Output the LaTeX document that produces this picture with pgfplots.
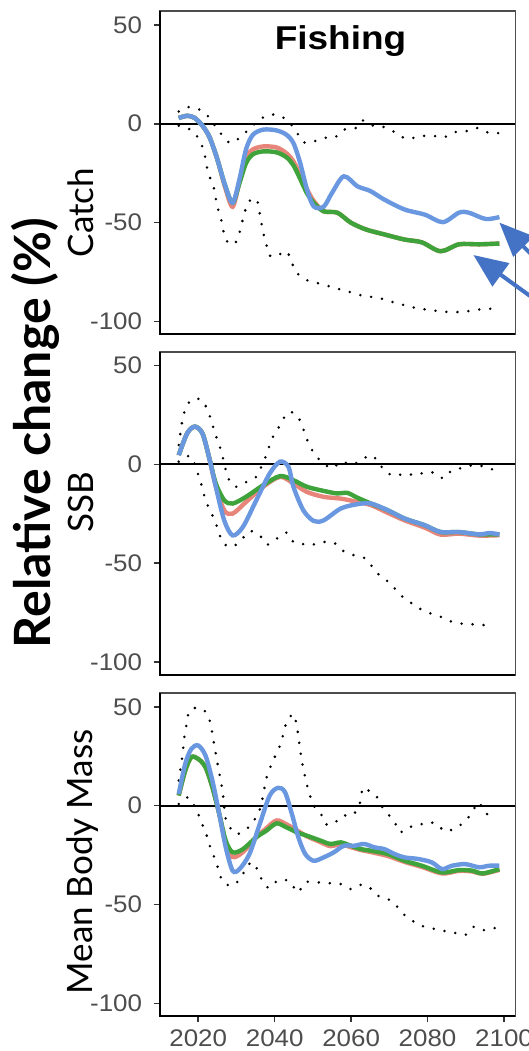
\documentclass[border=0pt]{standalone}
\usepackage{pgfplots}
\pgfplotsset{compat=1.18}
\usetikzlibrary{arrows.meta}
\usepackage{fontspec}
\setmainfont{Lato}
\newfontfamily\arial{Liberation Sans}

\definecolor{cRed}{HTML}{E8857A}
\definecolor{cGreen}{HTML}{3DA33A}
\definecolor{cBlue}{HTML}{6A98E0}
\definecolor{cArrow}{HTML}{4472C4}
\definecolor{tickgray}{HTML}{4D4D4D}

\pgfplotsset{
  panel/.style={
    scale only axis, width=177.75pt, height=161.65pt,
    xmin=2010, xmax=2103, ymin=-106.5, ymax=57,
    ytick={-100,-50,0,50}, yticklabels={-100,-50,0,50},
    ytick pos=left, tick align=outside, major tick length=3pt,
    tick style={black!80, line width=0.8pt},
    axis line style={black!70, line width=0.9pt},
    yticklabel style={font=\arial\fontsize{12}{13}\selectfont, text=tickgray, xscale=1.08, xshift=-2pt},
    xticklabel style={font=\arial\fontsize{12}{13}\selectfont, text=tickgray, xscale=1.08},
    clip=false,
  },
  ens/.style={line width=2.2pt, smooth, tension=0.5},
  bound/.style={black, line width=1.4pt, line cap=round, dash pattern=on 0pt off 5.5pt, smooth, tension=0.5},
  zero/.style={black, line width=1pt},
}

\begin{document}
\begin{tikzpicture}

% ---------- Catch ----------
\begin{axis}[panel, at={(80pt,358.35pt)}, anchor=south west, xtick=\empty]
\addplot[zero] coordinates {(2010,0) (2103,0)};
\addplot[bound] coordinates {
(2014.9,6.2) (2017.1,8.4) (2019.9,7.6) (2022.6,3.7) (2024.4,-1) (2026.2,-5.6)
(2028.4,-9.8) (2030.8,-7.2) (2033.4,-2.5) (2035.6,1.2) (2038.3,4.5) (2041.4,4)
(2044,0.3) (2045.8,-4.4) (2047.5,-9.4) (2050.2,-9) (2052.8,-7.2) (2055.9,-6.7)
(2058.1,-3) (2061.2,-2.2) (2063,1.7) (2066.1,-1.3) (2068.7,-1.7) (2071.8,-4.7)
(2074.5,-7.7) (2078,-6.4) (2081.1,-6) (2084.2,-6.9) (2086.8,-4.4) (2089.9,-3.9)
(2093,-2.2) (2096.1,-4.7) (2098.8,-4.7)};
\addplot[bound] coordinates {
(2014.9,-1) (2018.4,-3.4) (2020.2,-8) (2021.5,-14) (2022.6,-25) (2023.9,-31)
(2025,-41.8) (2025.9,-47.7) (2027.2,-58.6) (2029.4,-61) (2030.8,-55) (2032.1,-45)
(2033.4,-39) (2035.2,-38) (2035.9,-43.4) (2036.5,-50) (2037,-55) (2037.8,-61)
(2038.7,-66.7) (2040.5,-67) (2043.1,-64.5) (2044.5,-70.4) (2045.8,-75.4) (2048,-78.8)
(2051.1,-80.5) (2054.2,-82.2) (2057.3,-83.9) (2060.4,-85.5) (2063.4,-87.2) (2067,-88)
(2070.1,-89.8) (2073.2,-91.4) (2076.7,-93.1) (2079.8,-94) (2082.9,-94.8) (2086.4,-95.3)
(2089.9,-95) (2093,-94) (2096.6,-93.6)};
\addplot[ens, cRed] coordinates {
(2014.9,2.9) (2017.1,4) (2019,3) (2021.1,-1) (2023,-7) (2025,-18) (2027,-32)
(2029,-42) (2030.8,-29) (2032.5,-17) (2034.3,-13) (2037,-11.5) (2040.5,-12)
(2043.1,-15) (2044.9,-19) (2046.7,-26) (2048.4,-33) (2050.2,-39) (2052.8,-44.3)
(2056.4,-45) (2059.9,-50) (2063.9,-53.5) (2068.7,-56) (2074,-58.6) (2078.5,-60)
(2083.4,-64.5) (2088.2,-61) (2093.5,-61) (2098.8,-60.6)};
\addplot[ens, cGreen] coordinates {
(2014.9,2.9) (2017.1,4) (2019,3) (2021.1,-1) (2023,-7) (2025,-18) (2027,-31)
(2029,-40) (2030.8,-30) (2032.5,-20) (2034.3,-15.5) (2037,-14) (2040.5,-14.5)
(2043.1,-17) (2044.9,-21) (2046.7,-28) (2048.4,-35) (2050.2,-40) (2052.8,-44.3)
(2056.4,-45) (2059.9,-50) (2063.9,-53.5) (2068.7,-56) (2074,-58.6) (2078.5,-60)
(2083.4,-64.5) (2088.2,-61) (2093.5,-61) (2098.8,-60.6)};
\addplot[ens, cBlue] coordinates {
(2014.9,2.9) (2017.1,4) (2019,3) (2021.1,-1) (2023,-7) (2025,-18) (2027,-31)
(2029,-40) (2030.8,-28) (2032.5,-13) (2034.3,-5.6) (2037,-3)
(2040.5,-3.4) (2043.1,-5.6) (2044.9,-9.8) (2046.7,-20) (2048.4,-33) (2050.2,-41.8)
(2052.8,-42) (2055,-35) (2058.1,-26.6) (2061.7,-31.7) (2065,-34) (2068.7,-38.4)
(2074,-43.4) (2079.3,-46) (2084,-49.8) (2088.2,-45) (2090.8,-45) (2095.2,-48.2)
(2098.8,-47.2)};
\draw[black, line width=1.1pt] (rel axis cs:0,1) -- (rel axis cs:0,0) -- (rel axis cs:1,0);
\end{axis}

% ---------- SSB ----------
\begin{axis}[panel, at={(80pt,188pt)}, anchor=south west, xtick=\empty]
\addplot[zero] coordinates {(2010,0) (2103,0)};
\addplot[bound] coordinates {
(2014.9,9.8) (2015.8,21.7) (2016.6,27.6) (2018.2,32.7) (2020.9,32.7) (2022.4,27.6)
(2023.5,21.7) (2024.4,15.7) (2025.5,9.8) (2026.4,3.9) (2027.7,-6.3) (2029.6,-11.3)
(2032.1,-9.3) (2035.2,-6.3) (2036.5,-1.2) (2037.8,4.7) (2038.7,9.8) (2040,15.7)
(2041.8,20.8) (2043.1,25.9) (2045.3,25.9) (2046.9,21.1) (2048,14.9) (2049.1,9.8)
(2050.6,4.7) (2052.8,0.5) (2055.1,-2) (2057.3,1.4) (2059.9,0) (2062.6,1.7)
(2064.8,4.7) (2067,1.9) (2068.7,-3.2) (2071.4,-5.8) (2074,-4.6) (2076.7,-5.4)
(2079.3,-4.1) (2081.5,-4.1) (2084.2,-7.1) (2086.4,-2.9) (2089.5,-1.7) (2092.1,-0.3)
(2095.2,-1.2) (2097.4,-2.9)};
\addplot[bound] coordinates {
(2014.9,1.4) (2018,4.2) (2020.2,-6.3) (2021.1,-12.2) (2021.9,-18.1) (2023.3,-24)
(2024.6,-29.9) (2025.5,-35) (2026.5,-39.8) (2028.8,-41.8) (2031.2,-38.4) (2033.4,-33.7)
(2036.1,-35.9) (2038,-40.6) (2040.5,-37.6) (2043.1,-34.5) (2044.9,-39.3) (2047.1,-40.1)
(2049.3,-40.9) (2052.4,-39.3) (2055.5,-39.6) (2057.7,-43.5) (2060.8,-46) (2063.9,-47.7)
(2065.7,-52.3) (2067.9,-57) (2070.5,-60.4) (2072.3,-65.1) (2074.9,-68.9) (2077.6,-72.6)
(2080.7,-75.3) (2083.8,-77.3) (2086.8,-79.9) (2089.9,-80.7) (2093,-81) (2096.6,-81.6)};
\addplot[ens, cRed] coordinates {
(2014.9,4.7) (2017.1,15.7) (2019.1,19.1) (2021.1,15.7) (2022.8,3.9) (2024.6,-11)
(2026.8,-23.2) (2029,-24.9) (2032.5,-19) (2037,-11.3) (2041.4,-6.3) (2044.9,-9.6)
(2048.4,-13.9) (2052.8,-16.4) (2057.3,-17.3) (2061.7,-19) (2065.2,-20.6) (2069.6,-24.5)
(2074,-28.3) (2079.3,-32) (2083.4,-35.5) (2088.2,-35) (2093.5,-36) (2098.8,-35.8)};
\addplot[ens, cGreen] coordinates {
(2014.9,4.7) (2017.1,15.7) (2019.1,19.1) (2021.1,15.7) (2022.8,3.9) (2024.6,-9.6)
(2026.8,-18.1) (2029,-19.8) (2032.5,-16.4) (2037,-10.5) (2041.4,-5.9) (2044.9,-8)
(2048.4,-11.3) (2052.8,-13.4) (2056.4,-14.7) (2059,-14.4) (2061.7,-16.9) (2065.2,-19.8)
(2069.6,-23.2) (2074,-27.4) (2079.3,-30.8) (2083.4,-34.2) (2088.2,-34.2) (2093.5,-35.4)
(2098.8,-35.4)};
\addplot[ens, cBlue] coordinates {
(2014.9,4.7) (2017.1,15.7) (2019.1,19.1) (2021.1,15.7) (2022.8,3.9) (2024.6,-11.3)
(2026.8,-28.3) (2029,-35.9) (2031.7,-31.6) (2035.2,-18.1) (2038.7,-4.6) (2041.4,1.4)
(2043.6,-1.2) (2044.9,-11.3) (2047.5,-23.2) (2050.2,-28.6) (2052.8,-28.3) (2057.3,-22.3)
(2061.7,-20.1) (2065.2,-19.8) (2069.6,-23.2) (2074,-27.4) (2079.3,-30.8) (2083.4,-34.2)
(2088.2,-34.2) (2093.5,-35.4) (2096.1,-34.7) (2098.8,-35.4)};
\draw[black, line width=1.1pt] (rel axis cs:0,1) -- (rel axis cs:0,0) -- (rel axis cs:1,0);
\end{axis}

% ---------- Mean Body Mass ----------
\begin{axis}[panel, at={(80pt,17.4pt)}, anchor=south west,
  xtick={2020,2040,2060,2080,2100}, xticklabels={2020,2040,2060,2080,2100},
  xtick pos=bottom]
\addplot[zero] coordinates {(2010,0) (2103,0)};
\addplot[bound] coordinates {
(2014.9,12.7) (2015.8,24.5) (2016.5,36.3) (2017.1,42.2) (2017.7,48.1) (2020.2,49.5)
(2022.4,46.4) (2023.3,40.5) (2023.9,33.8) (2024.6,26.2) (2025.3,18.6) (2025.9,12.7)
(2026.4,6.8) (2027.1,-5.9) (2028.3,-11) (2029.9,-14.4) (2032.1,-12.7) (2033.9,-9.3)
(2035.6,-4.2) (2036.5,0.8) (2037.8,13.5) (2038.7,18.6) (2040,24.5) (2041.4,30.4)
(2042.3,36.3) (2043,41.4) (2044.8,46.4) (2045.8,40.5) (2046.2,34.6) (2047.1,22.8)
(2047.7,16.9) (2048.3,11.8) (2049.1,5.9) (2050.2,0) (2052,-3.7) (2053.3,-9.3)
(2055.5,-9) (2057.7,-5.1) (2059.9,-5.1) (2061.5,-2.5) (2062.6,3.4) (2063,9)
(2064.3,7.9) (2066.5,5.1) (2067.9,0) (2069.6,-4.2) (2071.4,-8.4) (2072.7,-13.5)
(2074.9,-11) (2077.6,-10.1) (2079.8,-8.4) (2082.4,-9.3) (2084.6,-13) (2087.7,-11)
(2089.9,-7.6) (2091.7,-3.4) (2093.3,1.7) (2095.2,-3.9) (2097,-4.6)};
\addplot[bound] coordinates {
(2014.9,0.8) (2017.5,4.2) (2020.2,-5.1) (2021.5,-11.8) (2022.4,-16) (2023.3,-22)
(2024.6,-27.9) (2025.5,-33.8) (2026.5,-38.8) (2029,-40.5) (2031.2,-36.3) (2032.9,-30.4)
(2034.3,-28.7) (2035.6,-32.9) (2037,-38.8) (2038.7,-41.7) (2040.9,-37.7) (2043.6,-38)
(2044.9,-41) (2046.2,-43.9) (2048,-38.8) (2051.1,-38.8) (2054.2,-39.2) (2057.3,-39.7)
(2059.9,-42.2) (2062.6,-40) (2064.8,-41.4) (2067,-45.6) (2069.6,-47.3) (2071.4,-49.5)
(2073.2,-54) (2075.4,-57.4) (2078,-60.5) (2081.1,-62) (2083.8,-63.3) (2086,-63.7)
(2087.7,-64.7) (2089.9,-65.4) (2092.1,-61.3) (2094.4,-63) (2096.6,-62) (2098.8,-62)};
\addplot[ens, cRed] coordinates {
(2014.9,5.1) (2016.6,17.7) (2018.2,24.5) (2020,23.6) (2021.9,19.4) (2023.7,9.3)
(2025.5,-4.2) (2027.2,-19) (2029,-26) (2031.7,-23.5) (2035.2,-16) (2037.8,-11.5)
(2040.5,-7.5) (2043.1,-9.5) (2045.8,-12.5) (2048.4,-15.5) (2052,-18.5) (2054.6,-20.5)
(2057.3,-19.5) (2059.9,-21) (2062.6,-22.5) (2065.2,-23.5) (2069.6,-25.5) (2074,-28.5)
(2078.5,-31) (2083.8,-34.3) (2088.2,-33) (2091.7,-33.3) (2094.4,-34.5) (2098.8,-32.5)};
\addplot[ens, cGreen] coordinates {
(2014.9,5.1) (2016.6,17.7) (2018.2,24.5) (2020,23.6) (2021.9,19.4) (2023.7,9.3)
(2025.5,-4.2) (2027.2,-17.7) (2029,-23.6) (2031.7,-22) (2035.2,-16) (2037.8,-12.7)
(2040.5,-9) (2043.1,-11) (2045.8,-13.5) (2048.4,-15.2) (2052,-17.7) (2054.6,-19.4)
(2057.3,-18.6) (2059.9,-20.3) (2062.6,-22) (2065.2,-22.8) (2069.6,-24.5) (2074,-27.9)
(2078.5,-30.4) (2083.8,-33.8) (2088.2,-32.6) (2091.7,-32.9) (2094.4,-34.3) (2098.8,-32.1)};
\addplot[ens, cBlue] coordinates {
(2014.9,5.9) (2016.6,21.1) (2018.2,28.7) (2020,30.4) (2021.9,25.3) (2023.7,12.7)
(2025.5,-4.2) (2027.2,-21.1) (2029,-32.9) (2030.8,-32.1) (2033.4,-24.5) (2036.1,-9.3)
(2038.7,5.1) (2040.9,9) (2042.7,6.8) (2044.5,-4.2) (2046.2,-16) (2048,-24.5)
(2050.2,-27.9) (2052.8,-26.2) (2055.5,-23.6) (2058.1,-20.3) (2060.8,-20.3) (2063.4,-19.4)
(2066.1,-21.1) (2068.7,-22) (2071.4,-24.5) (2074,-26.2) (2077.6,-27) (2081.1,-28.7)
(2083.8,-32.1) (2086.4,-30.4) (2089.9,-29.6) (2093.5,-31.2) (2096.1,-30.4) (2098.8,-30.4)};
\draw[black, line width=1.1pt] (rel axis cs:0,1) -- (rel axis cs:0,0) -- (rel axis cs:1,0);
\end{axis}

% ---------- labels ----------
\node[anchor=base, xscale=1.12, font=\arial\bfseries\fontsize{16.5}{18}\selectfont] at (170.25pt,500.5pt) {Fishing};
\node[rotate=90, anchor=base, font=\fontsize{17.5}{18}\selectfont] at (46.5pt,419.25pt) {Catch};
\node[rotate=90, anchor=base, font=\fontsize{17.5}{18}\selectfont] at (46.5pt,274.5pt) {SSB};
\node[rotate=90, anchor=base, font=\fontsize{17.5}{18}\selectfont] at (46pt,94.5pt) {Mean Body Mass};
\node[rotate=90, anchor=base, font=\bfseries\fontsize{25}{26}\selectfont] at (25.3pt,309pt) {Relative change (\%)};

% ---------- arrows ----------
\draw[cArrow, line width=2pt, -{Triangle[length=17pt,width=14pt]}] (290pt,374pt) -- (249.7pt,414.2pt);
\draw[cArrow, line width=2pt, -{Triangle[length=17pt,width=14pt]}] (292pt,358pt) -- (236.7pt,398pt);

\pgfresetboundingbox
\path[use as bounding box] (0pt,0pt) rectangle (264.5pt,525.5pt);
\end{tikzpicture}
\end{document}
